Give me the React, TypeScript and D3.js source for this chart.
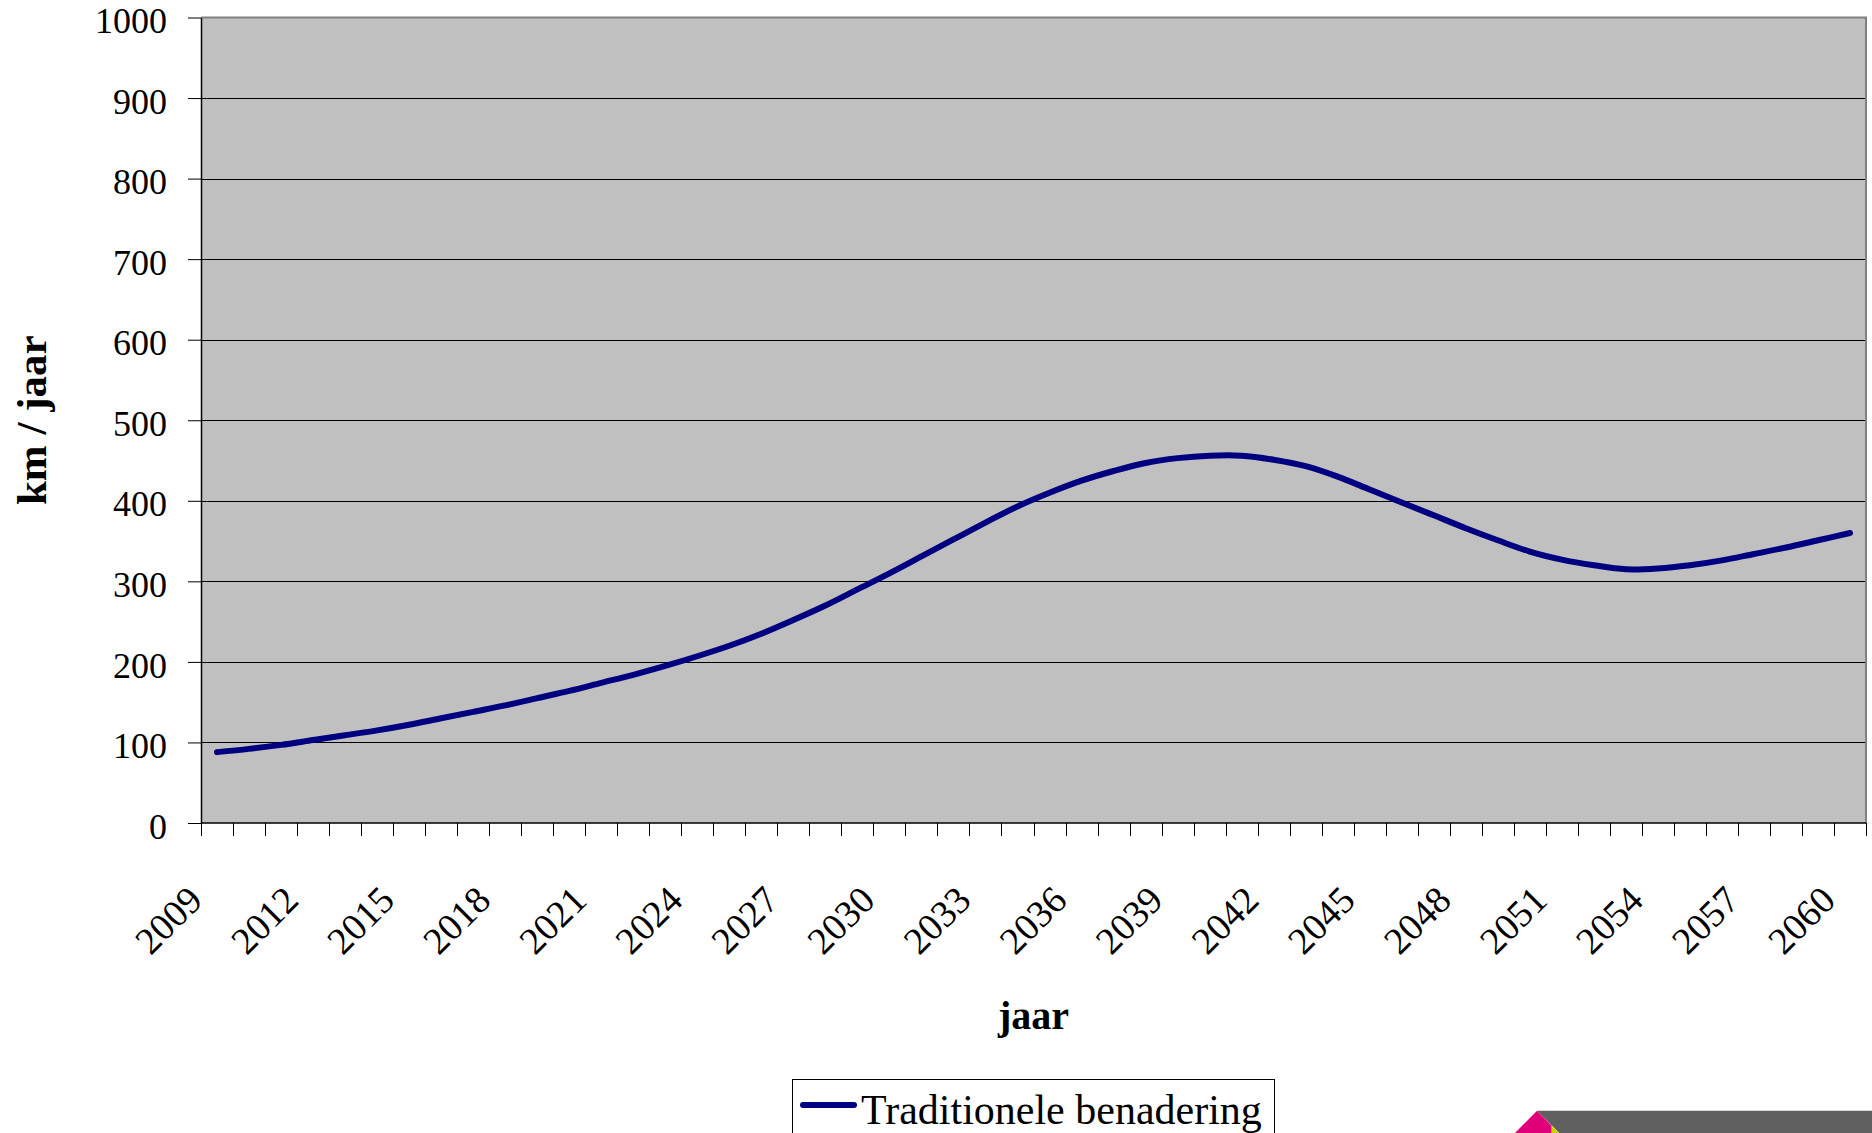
import React, { useEffect, useRef } from 'react'
import * as d3 from 'd3'

// categories (one per year)
const years = [
  2009, 2010, 2011, 2012, 2013, 2014, 2015, 2016, 2017, 2018,
  2019, 2020, 2021, 2022, 2023, 2024, 2025, 2026, 2027, 2028,
  2029, 2030, 2031, 2032, 2033, 2034, 2035, 2036, 2037, 2038,
  2039, 2040, 2041, 2042, 2043, 2044, 2045, 2046, 2047, 2048,
  2049, 2050, 2051, 2052, 2053, 2054, 2055, 2056, 2057, 2058,
  2059, 2060
]

// Traditionele benadering, km / jaar
const kmPerYear = [
  88, 92, 97, 103, 109, 115, 122, 130, 138, 146,
  155, 164, 174, 184, 195, 207, 220, 235, 252, 270,
  290, 310, 331, 352, 373, 393, 410, 425, 437, 447,
  453, 456, 456, 451, 443, 430, 414, 398, 382, 366,
  351, 337, 327, 320, 315, 316, 320, 326, 334, 342,
  351, 360
]

const yTicks = [0, 100, 200, 300, 400, 500, 600, 700, 800, 900, 1000]
const xLabelYears = [2009, 2012, 2015, 2018, 2021, 2024, 2027, 2030, 2033, 2036, 2039, 2042, 2045, 2048, 2051, 2054, 2057, 2060]

const seriesName = 'Traditionele benadering'
const yTitle = 'km / jaar'
const xTitle = 'jaar'

export default function App() {
  const svgRef = useRef<SVGSVGElement>(null)

  useEffect(() => {
    const svg = d3.select(svgRef.current)
    svg.selectAll('*').remove()

    const width = 1872
    const height = 1133
    const left = 201
    const right = 1866
    const top = 17.5
    const bottom = 823
    const font = '"Liberation Serif", "Times New Roman", serif'

    const x = d3.scaleBand<number>().domain(years).range([left, right])
    const y = d3.scaleLinear().domain([0, 1000]).range([bottom, top])
    const cx = (yr: number) => (x(yr) as number) + x.bandwidth() / 2

    svg.attr('width', width).attr('height', height)

    svg.append('rect')
      .attr('width', width)
      .attr('height', height)
      .attr('fill', '#ffffff')

    // plot area
    svg.append('rect')
      .attr('x', left)
      .attr('y', top)
      .attr('width', right - left)
      .attr('height', bottom - top)
      .attr('fill', '#c0c0c0')

    // gridlines
    svg.append('g')
      .selectAll('line')
      .data(yTicks.filter(d => d > 0 && d < 1000))
      .join('line')
      .attr('x1', left)
      .attr('x2', right)
      .attr('y1', d => Math.round(y(d)) + 0.5)
      .attr('y2', d => Math.round(y(d)) + 0.5)
      .attr('stroke', '#000')
      .attr('stroke-width', 1)

    // gray frame top / right
    svg.append('path')
      .attr('d', `M${left},${top} H${right} V${bottom}`)
      .attr('fill', 'none')
      .attr('stroke', '#808080')
      .attr('stroke-width', 2)

    // y axis
    const yAxis = d3.axisLeft(y)
      .tickValues(yTicks)
      .tickSize(13)
      .tickSizeOuter(0)
      .tickPadding(21)
      .tickFormat(d => String(d))

    const gy = svg.append('g')
      .attr('transform', `translate(${left},0)`)
      .call(yAxis)
    gy.select('.domain').attr('stroke', '#000').attr('stroke-width', 1.5)
    gy.selectAll('.tick line').attr('stroke', '#000').attr('stroke-width', 1)
    gy.selectAll('.tick text')
      .attr('fill', '#000')
      .attr('dy', '0.42em')
      .style('font-family', font)
      .style('font-size', '36px')

    // x axis line + ticks at category boundaries
    svg.append('line')
      .attr('x1', left)
      .attr('x2', right)
      .attr('y1', bottom)
      .attr('y2', bottom)
      .attr('stroke', '#000')
      .attr('stroke-width', 1.5)

    const boundaries = years.map(yr => x(yr) as number).concat([right])
    svg.append('g')
      .selectAll('line')
      .data(boundaries)
      .join('line')
      .attr('x1', d => Math.round(d) + 0.5)
      .attr('x2', d => Math.round(d) + 0.5)
      .attr('y1', bottom)
      .attr('y2', bottom + 13)
      .attr('stroke', '#000')
      .attr('stroke-width', 1)

    svg.append('g')
      .selectAll('text')
      .data(xLabelYears)
      .join('text')
      .attr('transform', d => `translate(${cx(d) - 22},${bottom + 70}) rotate(-45)`)
      .attr('text-anchor', 'end')
      .attr('dy', '0.35em')
      .style('font-family', font)
      .style('font-size', '38px')
      .attr('fill', '#000')
      .text(d => String(d))

    // series line
    const line = d3.line<number>()
      .x((d, i) => cx(years[i]))
      .y(d => y(d))
      .curve(d3.curveCatmullRom)

    svg.append('path')
      .datum(kmPerYear)
      .attr('d', line)
      .attr('fill', 'none')
      .attr('stroke', '#000080')
      .attr('stroke-width', 6)
      .attr('stroke-linecap', 'round')
      .attr('stroke-linejoin', 'round')

    // axis titles
    svg.append('text')
      .attr('transform', `translate(46,${(top + bottom) / 2}) rotate(-90)`)
      .attr('text-anchor', 'middle')
      .style('font-family', font)
      .style('font-size', '43px')
      .style('font-weight', '700')
      .text(yTitle)

    svg.append('text')
      .attr('x', (left + right) / 2)
      .attr('y', 1029)
      .attr('text-anchor', 'middle')
      .style('font-family', font)
      .style('font-size', '40px')
      .style('font-weight', '700')
      .text(xTitle)

    // legend
    const lg = svg.append('g')
    lg.append('rect')
      .attr('x', 792.5)
      .attr('y', 1079.5)
      .attr('width', 482)
      .attr('height', 70)
      .attr('fill', '#fff')
      .attr('stroke', '#000')
      .attr('stroke-width', 1)
    lg.append('line')
      .attr('x1', 803)
      .attr('x2', 854)
      .attr('y1', 1105)
      .attr('y2', 1105)
      .attr('stroke', '#000080')
      .attr('stroke-width', 6)
      .attr('stroke-linecap', 'round')
    lg.append('text')
      .attr('x', 861)
      .attr('y', 1124)
      .style('font-family', font)
      .style('font-size', '42px')
      .attr('fill', '#000')
      .text(seriesName)

    // corner logo strip
    svg.append('path')
      .attr('d', 'M1537,1110.7 H1872 V1133 H1559.3 Z')
      .attr('fill', '#606060')
    svg.append('path')
      .attr('d', 'M1515,1133 L1537,1110.7 L1551.7,1125.7 V1133 Z')
      .attr('fill', '#e0007a')
    svg.append('path')
      .attr('d', 'M1551.7,1125.7 L1559.3,1133 H1551.7 Z')
      .attr('fill', '#c8d400')
  }, [])

  return (
    <svg ref={svgRef} style={{ position: 'absolute', left: 0, top: 0, display: 'block' }} />
  )
}
